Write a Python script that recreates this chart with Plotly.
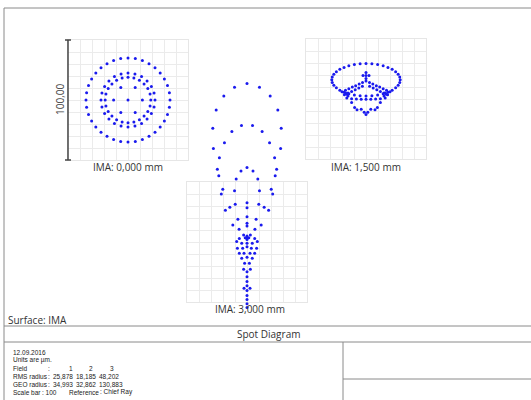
import plotly.graph_objects as go

W, H = 531, 400

# ---------------- data (micrometres, relative to chief ray; x right, y up) ----------------
FIELD_LABELS = ["IMA: 0,000 mm", "IMA: 1,500 mm", "IMA: 3,000 mm"]
FIELD_NUMBERS = ["1", "2", "3"]
RMS_RADIUS = ["25,878", "18,185", "48,202"]
GEO_RADIUS = ["34,993", "32,862", "130,883"]
SCALE_BAR_LABEL = "100,00"
DATE = "12.09.2016"

F1_CORE = [(0, 0), (12, 0), (6, 10.4), (-6, 10.4), (-12, 0), (-6, -10.4), (6, -10.4)]
F1_MIDDLE = [
    (19, 0), (18.4, 4.9), (16.5, 9.5), (13.4, 13.4), (9.5, 16.5), (4.9, 18.4),
    (0, 19), (-4.9, 18.4), (-9.5, 16.5), (-13.4, 13.4), (-16.5, 9.5), (-18.4, 4.9),
    (-19, 0), (-18.4, -4.9), (-16.5, -9.5), (-13.4, -13.4), (-9.5, -16.5), (-4.9, -18.4),
    (0, -19), (4.9, -18.4), (9.5, -16.5), (13.4, -13.4), (16.5, -9.5), (18.4, -4.9),
    (22.5, 0), (21.7, 5.8), (19.5, 11.3), (15.9, 15.9), (11.3, 19.5), (5.8, 21.7),
    (0, 22.5), (-5.8, 21.7), (-11.3, 19.5), (-15.9, 15.9), (-19.5, 11.3), (-21.7, 5.8),
    (-22.5, 0), (-21.7, -5.8), (-19.5, -11.3), (-15.9, -15.9), (-11.3, -19.5), (-5.8, -21.7),
    (0, -22.5), (5.8, -21.7), (11.3, -19.5), (15.9, -15.9), (19.5, -11.3), (21.7, -5.8),
]
F1_OUTER = [
    (35, 0), (34.5, 6.1), (32.9, 12), (30.3, 17.5), (26.8, 22.5), (22.5, 26.8), (17.5, 30.3), (12, 32.9), (6.1, 34.5),
    (0, 35), (-6.1, 34.5), (-12, 32.9), (-17.5, 30.3), (-22.5, 26.8), (-26.8, 22.5), (-30.3, 17.5), (-32.9, 12), (-34.5, 6.1),
    (-35, 0), (-34.5, -6.1), (-32.9, -12), (-30.3, -17.5), (-26.8, -22.5), (-22.5, -26.8), (-17.5, -30.3), (-12, -32.9), (-6.1, -34.5),
    (0, -35), (6.1, -34.5), (12, -32.9), (17.5, -30.3), (22.5, -26.8), (26.8, -22.5), (30.3, -17.5), (32.9, -12), (34.5, -6.1),
]

F2_OUTER = [
    (28.5, 16), (28.1, 18.3), (26.8, 20.6), (24.7, 22.8), (21.8, 24.7), (18.3, 26.3), (14.3, 27.7), (9.7, 28.7), (4.9, 29.3),
    (0, 29.5), (-4.9, 29.3), (-9.7, 28.7), (-14.3, 27.7), (-18.3, 26.3), (-21.8, 24.7), (-24.7, 22.8), (-26.8, 20.6), (-28.1, 18.3),
    (-28.5, 16), (-28.1, 13.7), (-26.8, 11.4), (-24.7, 9.3), (-21.8, 7.3), (-18.3, 5.7), (-14.3, 4.3), (-9.7, 3.3), (-4.9, 2.7),
    (0, 2.5), (4.9, 2.7), (9.7, 3.3), (14.3, 4.3), (18.3, 5.7), (21.8, 7.3), (24.7, 9.3), (26.8, 11.4), (28.1, 13.7),
]
F2_CROWN = [
    (0, 22), (0, 19.5), (0, 17), (-2.5, 19.5), (2.5, 19.5), (0, 15),
    (2.9, 13.7), (5.7, 12.4), (8.6, 11.1), (11.4, 9.9), (14.3, 8.6), (17.1, 7.3), (20, 6),
    (-2.9, 13.7), (-5.7, 12.4), (-8.6, 11.1), (-11.4, 9.9), (-14.3, 8.6), (-17.1, 7.3), (-20, 6),
    (3, 10.6), (6, 9.2), (9, 7.7), (12, 6.3), (15, 4.9), (18, 3.5),
    (-3, 10.6), (-6, 9.2), (-9, 7.7), (-12, 6.3), (-15, 4.9), (-18, 3.5),
    (-17, 5), (-16, 4), (16, 5), (17, 4), (-15, 2.5), (15, 2.5),
]
F2_LOWER = [
    (-16, 0.8), (-12, 0.3), (-8, 0), (-4, -0.2), (0, -0.3), (4, -0.2), (8, 0), (12, 0.3), (16, 0.8),
    (-12, -3), (12, -3),
    (-9.5, -7), (-7.5, -9), (-4, -8.5), (-1.5, -11), (0, -13), (1.5, -11), (4, -8.5), (7.5, -9), (9.5, -7),
]

F3_ARCHES = [
    (0, 132), (-10.4, 129), (10.4, 129), (-19.3, 121.7), (19.3, 121.7), (-25.7, 110), (25.7, 110),
    (-28.5, 94.7), (28.5, 94.7), (-28, 78), (28, 78), (-23, 70.3), (23, 70.3), (-24.7, 60.6), (24.7, 60.6),
    (-23.5, 55.3), (23.5, 55.3), (-20.2, 43.9), (20.2, 43.9), (-21.4, 40), (21.4, 40), (-18, 26.5), (18, 26.5),
    (-4.6, 97), (4.6, 97), (-12.6, 92), (12.6, 92), (-18.8, 82.8), (18.8, 82.8),
    (0, 62), (-5, 59.2), (5, 59.2), (-9, 52.5), (9, 52.5), (-10.4, 42.8), (10.4, 42.8),
    (0, 32.8), (0, 28.6), (-9.8, 31.4), (9.8, 31.4), (-14.3, 28.9), (14.3, 28.9),
    (-7.6, 18.9), (7.6, 18.9), (0, 21.1), (0, 15.6),
]
F3_CORE = [
    (-11.8, 14.2), (11.8, 14.2), (0, 13.3), (-6.6, 10.6), (6.6, 10.6),
    (-2.8, 5.8), (2.8, 5.8), (-6.4, 3), (6.4, 3), (0, 5), (0, 3.5), (0, 2), (-1.5, 3.5), (1.5, 3.5),
    (-8.6, 0.5), (8.6, 0.5), (-4.4, -1), (4.4, -1), (0, -1),
    (-8, -5.3), (8, -5.3), (-3.6, -5.3), (3.6, -5.3), (0, -3.9),
    (-6.4, -9.4), (6.4, -9.4), (-2.5, -9.4), (2.5, -9.4),
    (-4.4, -13.6), (4.4, -13.6), (0, -12.8), (-2, -17.8), (2, -17.8),
    (-2.8, -22.8), (2.8, -22.8), (0, -24.7),
]
F3_TAIL = [(0, -29), (0, -33), (0, -36.5), (-2.5, -38.5), (2.5, -38.5), (0, -40.5),
           (0, -44.5), (0, -48), (0, -51.5), (0, -54.5)]

# ---------------- layout (pixel geometry) ----------------
BOXES = [(68, 40), (306, 39), (187, 182)]   # top-left corner of each 120x120 px box
BOX = 120
HALF = 50.0                                  # half box width in micrometres
LABEL_POS = [(128, 167), (366, 167), (250, 309)]
F3_WINDOW = (70, 318)                        # taller pixel window for the field-3 overflow layer


def px(x):
    return x / W


def py(y):
    return 1 - y / H


DOT = dict(size=3, color="#1a1aee", line=dict(width=0))

fig = go.Figure()
layout_axes = {}
grid = dict(range=[-HALF, HALF], dtick=10, tick0=0, showgrid=True, gridcolor="#ebebeb",
            gridwidth=1, zeroline=False, showticklabels=False, ticks="",
            showline=True, linecolor="#e6e6e6", linewidth=1, mirror=True, fixedrange=True)

box_points = [F1_CORE + F1_MIDDLE + F1_OUTER, F2_OUTER + F2_CROWN + F2_LOWER, F3_CORE]
for i, (pts, (bx, by)) in enumerate(zip(box_points, BOXES)):
    n = str(i + 1) if i else ""
    layout_axes["xaxis" + n] = dict(grid, domain=[px(bx), px(bx + BOX)], anchor="y" + n)
    layout_axes["yaxis" + n] = dict(grid, domain=[py(by + BOX), py(by)], anchor="x" + n)
    fig.add_trace(go.Scatter(x=[p[0] for p in pts], y=[p[1] for p in pts], mode="markers",
                             marker=DOT, xaxis="x" + n, yaxis="y" + n, cliponaxis=False,
                             showlegend=False, hoverinfo="skip"))

# field 3 overflow layer: same scale as its box, but a taller window
bx, by = BOXES[2]
scale = BOX / (2 * HALF)
cy = by + BOX / 2
top, bot = F3_WINDOW
layout_axes["xaxis4"] = dict(domain=[px(bx), px(bx + BOX)], range=[-HALF, HALF],
                             visible=False, anchor="y4", fixedrange=True)
layout_axes["yaxis4"] = dict(domain=[py(bot), py(top)],
                             range=[(cy - bot) / scale, (cy - top) / scale],
                             visible=False, anchor="x4", fixedrange=True)
over = F3_ARCHES + F3_TAIL
fig.add_trace(go.Scatter(x=[p[0] for p in over], y=[p[1] for p in over], mode="markers",
                         marker=DOT, xaxis="x4", yaxis="y4", cliponaxis=False,
                         showlegend=False, hoverinfo="skip"))

FONT = "Open Sans, Noto Sans, sans-serif"
SMALL = "Liberation Sans, Arial, sans-serif"
ann = []
for lab, (lx, ly) in zip(FIELD_LABELS, LABEL_POS):
    ann.append(dict(text=lab, x=px(lx), y=py(ly), font=dict(size=10, color="#333", family=FONT)))
ann.append(dict(text=SCALE_BAR_LABEL, x=px(60), y=py(100), textangle=-90,
                font=dict(size=10, color="#444", family=FONT)))
ann.append(dict(text="Surface: IMA", x=px(7), y=py(320), xanchor="left",
                font=dict(size=10, color="#333", family=FONT)))
ann.append(dict(text="Spot Diagram", x=px(268), y=py(334), font=dict(size=10, color="#333", family=FONT)))

TS = 6.5
C = "#1a1a1a"


def t(text, x, y, anchor="center"):
    ann.append(dict(text=text, x=px(x), y=py(y), xanchor=anchor,
                    font=dict(size=TS, color=C, family=SMALL)))


rows_y = [352, 360, 368, 376, 384, 392]
t(DATE, 12, rows_y[0], "left")
t("Units are µm.", 12, rows_y[1], "left")
for lab, yy in [("Field", rows_y[2]), ("RMS radius", rows_y[3]), ("GEO radius", rows_y[4])]:
    t(lab, 12, yy, "left")
    t(":", 49, yy)
for v, xx in zip(FIELD_NUMBERS, [71, 91, 112]):
    t(v, xx, rows_y[2])
for v, xx in zip(RMS_RADIUS, [63, 86, 109]):
    t(v, xx, rows_y[3])
for v, xx in zip(GEO_RADIUS, [63, 86, 111]):
    t(v, xx, rows_y[4])
t("Scale bar", 12, rows_y[5], "left")
t(": 100", 41, rows_y[5], "left")
t("Reference", 68, rows_y[5], "left")
t(": Chief Ray", 99, rows_y[5], "left")
for a in ann:
    a.setdefault("xanchor", "center")
    a.update(xref="paper", yref="paper", showarrow=False, yanchor="middle", borderpad=0)

LC = "#8a8a8a"
shapes = []


def line(x0, y0, x1, y1, color=LC, w=1):
    shapes.append(dict(type="line", xref="paper", yref="paper",
                       x0=px(x0), y0=py(y0), x1=px(x1), y1=py(y1),
                       line=dict(color=color, width=w)))


# outer frame
line(4, 8, 531, 8)
line(4, 8, 4, 400)
# footer separators
line(4, 326, 531, 326)
line(4, 342, 531, 342)
line(343, 342, 343, 400)
line(343, 379, 531, 379)
# scale bar
line(68, 40, 68, 160, color="#444", w=1.5)
line(65, 40, 71, 40, color="#444", w=1.5)
line(65, 160, 71, 160, color="#444", w=1.5)

fig.update_layout(width=W, height=H, margin=dict(l=0, r=0, t=0, b=0),
                  paper_bgcolor="white", plot_bgcolor="rgba(0,0,0,0)",
                  annotations=ann, shapes=shapes, **layout_axes)
fig.write_html("out.html", config={"displayModeBar": False},
               post_script="document.body.style.margin='0px';")
